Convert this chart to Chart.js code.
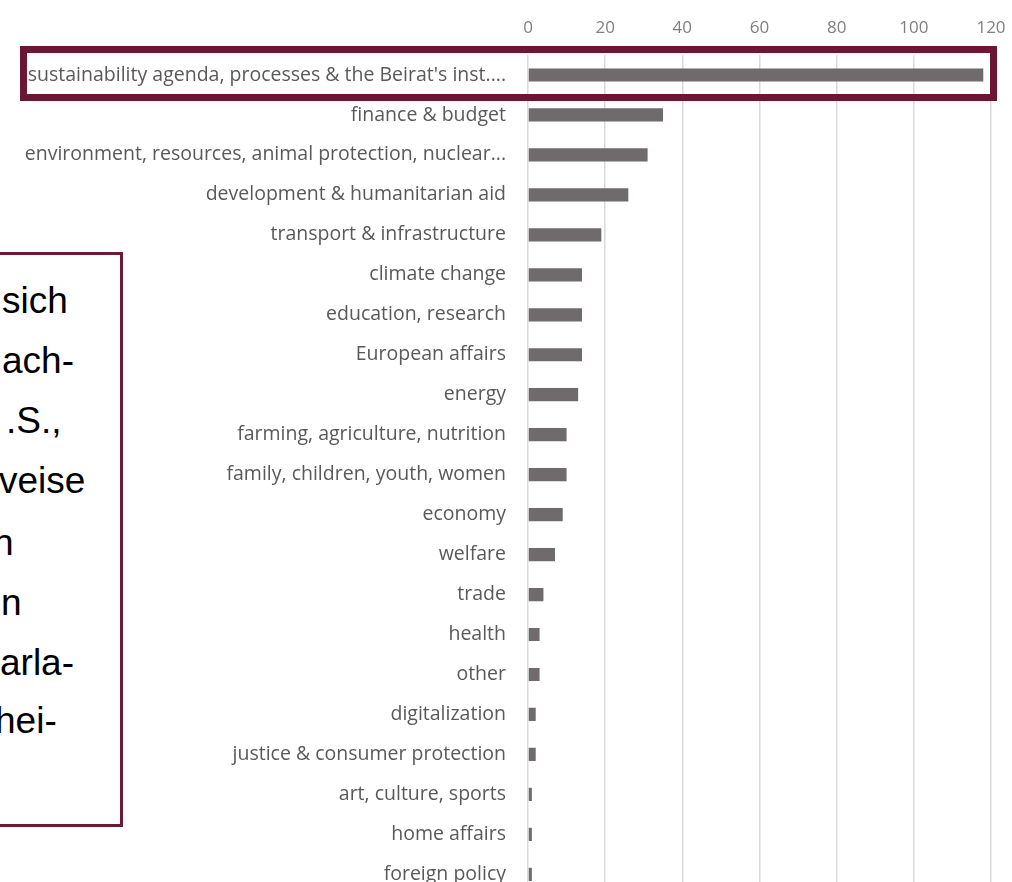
<!DOCTYPE html>
<html>
<head>
<meta charset="utf-8">
<script src="https://cdn.jsdelivr.net/npm/chart.js@4/dist/chart.umd.min.js"></script>
<style>
  html, body { margin: 0; padding: 0; background: #fff; overflow: hidden; }
  #chartTopics { position: absolute; left: 0; top: 0; }
  #hl { position: absolute; left: 20px; top: 46px; width: 977px; height: 55px;
        border: 7.5px solid #6b1733; box-sizing: border-box; pointer-events: none; }
  #note { position: absolute; left: -10px; top: 252px; width: 133px; height: 575px;
          border: 3.5px solid #6b1a38; box-sizing: border-box; background: #fff; overflow: hidden; }
  #note div { position: absolute; font-family: "Liberation Sans", Arial, sans-serif;
              font-size: 37px; color: #000; line-height: 1; white-space: nowrap; }
</style>
</head>
<body>
<canvas id="chartTopics" width="1012" height="906"></canvas>
<div id="hl"></div>
<div id="note">
  <div style="left:9px; top:27px">sich</div>
  <div style="left:9px; top:87px">ach-</div>
  <div style="left:13px; top:147px">.S.,</div>
  <div style="left:6px; top:207px">veise</div>
  <div style="left:0px; top:269px">n</div>
  <div style="left:8px; top:329px">n</div>
  <div style="left:7px; top:389px">arla-</div>
  <div style="left:2px; top:447px">hei-</div>
</div>
<script>
  var topics = [
    "sustainability agenda, processes & the Beirat's inst....",
    "finance & budget",
    "environment, resources, animal protection, nuclear...",
    "development & humanitarian aid",
    "transport & infrastructure",
    "climate change",
    "education, research",
    "European affairs",
    "energy",
    "farming, agriculture, nutrition",
    "family, children, youth, women",
    "economy",
    "welfare",
    "trade",
    "health",
    "other",
    "digitalization",
    "justice & consumer protection",
    "art, culture, sports",
    "home affairs",
    "foreign policy"
  ];
  var counts = [118, 35, 31, 26, 19, 14, 14, 14, 13, 10, 10, 9, 7, 4, 3, 3, 2, 2, 1, 1, 1];
  var xMin = 0, xMax = 120, xStep = 20;

  var labelFont = { family: '"Open Sans", Lato, sans-serif', size: 19.5 };

  // ticks.padding feeds into the scale's edge padding, so the label gap is made with
  // an invisible tick mark instead
  new Chart(document.getElementById('chartTopics'), {
    type: 'bar',
    data: {
      labels: topics,
      datasets: [{
        data: counts,
        backgroundColor: '#6f6b6c',
        borderWidth: 0,
        barPercentage: 0.33,
        categoryPercentage: 1
      }]
    },
    options: {
      indexAxis: 'y',
      responsive: false,
      animation: false,
      layout: { padding: { left: 0, right: 21, top: 0, bottom: 0 } },
      plugins: { legend: { display: false }, tooltip: { enabled: false } },
      scales: {
        x: {
          position: 'top',
          min: xMin,
          max: xMax,
          border: { display: false },
          grid: { color: '#d9d9d9', lineWidth: 1.5, drawTicks: true, tickLength: 17, tickColor: 'rgba(0,0,0,0)' },
          ticks: { stepSize: xStep, color: '#7f7f7f', padding: 0, font: { family: '"Open Sans", Lato, sans-serif', size: 17 } },
          afterFit: function(s) { s.height = 55; }
        },
        y: {
          border: { display: false },
          grid: { display: false, drawTicks: true, tickLength: 22 },
          ticks: { color: '#595959', padding: 0, font: labelFont, autoSkip: false },
          afterFit: function(s) { s.width = 528; }
        }
      }
    }
  });
</script>
</body>
</html>
